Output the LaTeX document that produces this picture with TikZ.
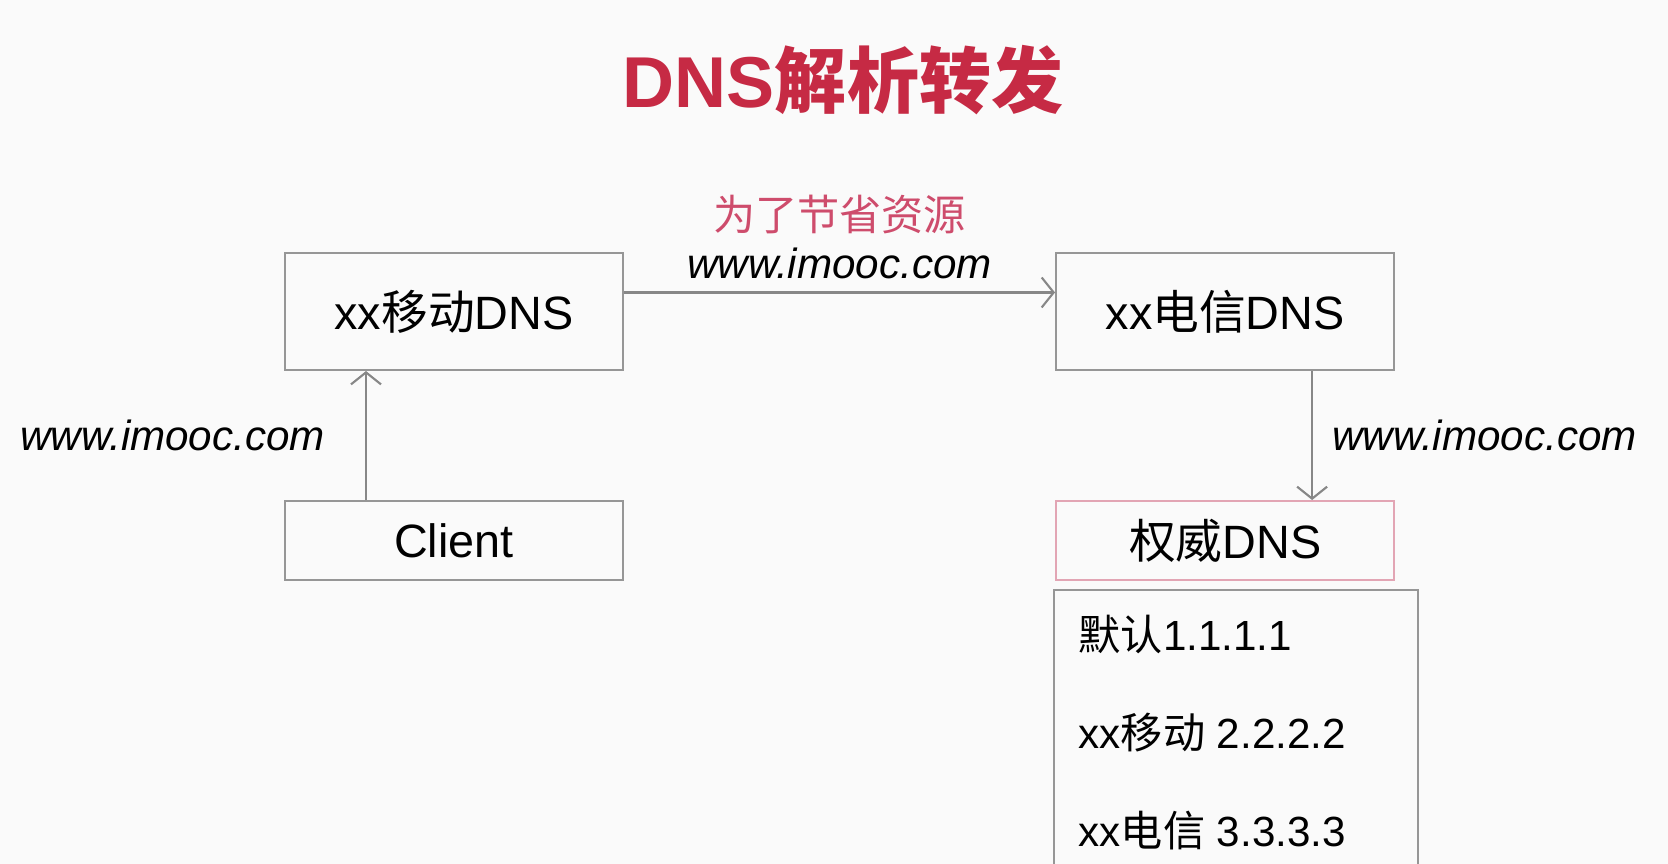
\documentclass[tikz,border=0pt]{standalone}
\usepackage{fontspec}
\setmainfont{Liberation Sans}
\newfontfamily\cjk{Noto Sans CJK SC}
\usetikzlibrary{positioning, arrows.meta}

\definecolor{titlered}{RGB}{198,42,68}
\definecolor{notered}{RGB}{206,76,108}
\definecolor{linegray}{RGB}{135,135,135}
\definecolor{boxgray}{RGB}{150,150,150}
\definecolor{pinkline}{RGB}{226,165,180}
\definecolor{bggray}{RGB}{250,250,250}

\tikzset{
  dnsbox/.style={draw=boxgray, line width=0.6pt, minimum width=3.38cm, minimum height=1.17cm, inner sep=0pt, font=\fontsize{13.3}{16}\selectfont},
  smallbox/.style={dnsbox, minimum height=0.79cm},
  url/.style={inner sep=0pt, font=\fontsize{12}{14}\selectfont\itshape},
  listitem/.style={inner sep=0pt, anchor=west, font=\fontsize{12}{14}\selectfont},
  link/.style={->, draw=linegray, line width=0.6pt},
}

\begin{document}
\begin{tikzpicture}[>={Straight Barb[length=1.2mm, width=3mm]}]
    \fill[bggray] (0,0) rectangle (16.68,8.64);
    \useasboundingbox (0,0) rectangle (16.68,8.64);

    % Title
    \node[font=\fontsize{20.5}{23}\selectfont\bfseries, text=titlered] (title) at (8.43,7.84) {DNS{\cjk 解析转发}};

    % DNS servers
    \node[dnsbox] (mobile) at (4.54,5.525) {xx{\cjk 移动}DNS};
    \node[dnsbox, right=4.31cm of mobile] (telecom) {xx{\cjk 电信}DNS};
    \node[smallbox, below=1.29cm of mobile] (client) {Client};
    \node[smallbox, draw=pinkline, below=1.29cm of telecom] (auth) {{\cjk 权威}DNS};

    % Client asks the mobile DNS
    \draw[link] ([xshift=-0.88cm]client.north) -- ([xshift=-0.88cm]mobile.south)
        node[midway, left=0.4cm, url] {www.imooc.com};

    % Forwarding
    \draw[link] ([yshift=0.19cm]mobile.east) -- ([yshift=0.19cm]telecom.west)
        node[midway, above=0.13cm, url] (fwd) {www.imooc.com};
    \node[above=0.12cm of fwd, inner sep=0pt, text=notered, font=\fontsize{12}{14}\selectfont\cjk] (note) {为了节省资源};

    % Telecom asks the authoritative DNS
    \draw[link] ([xshift=0.87cm]telecom.south) -- ([xshift=0.87cm]auth.north)
        node[midway, right=0.19cm, url] {www.imooc.com};

    % Records of the authoritative DNS
    \draw[boxgray, line width=0.6pt] (10.54,0) |- (14.18,2.74) -- (14.18,0);
    \foreach \y/\val/\n in {2.29/{{\cjk 默认}1.1.1.1}/def, 1.31/{xx{\cjk 移动} 2.2.2.2}/mob, 0.33/{xx{\cjk 电信} 3.3.3.3}/tel} {
        \node[listitem] (\n) at (10.78,\y) {\val};
    }
\end{tikzpicture}
\end{document}
